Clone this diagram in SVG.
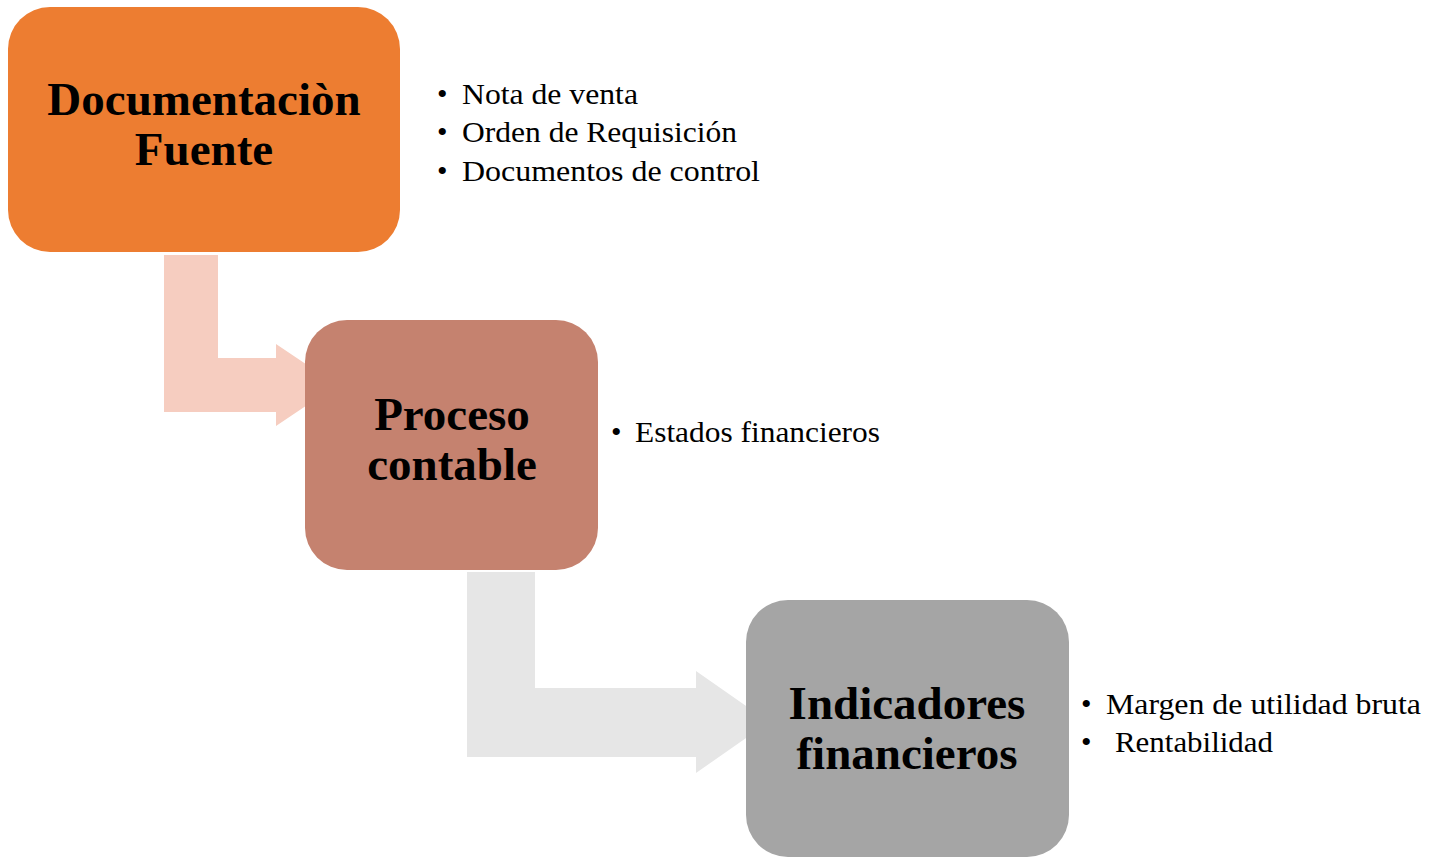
<svg xmlns="http://www.w3.org/2000/svg" width="1442" height="857" viewBox="0 0 1442 857">
<style>
.title{font-family:"Liberation Serif","Times New Roman",serif;font-weight:bold;font-size:47px;fill:#000;text-anchor:middle}
.item{font-family:"Liberation Serif","Times New Roman",serif;font-size:30px;fill:#000}
</style>
<rect width="1442" height="857" fill="#fff"/>
<g id="connectors">
<path d="M164,255 H218 V358 H276 V344 L337,385 L276,426 V412 H164 Z" fill="#F6CDC0"/>
<path d="M467,572 H535 V688 H696 V671 L769,722 L696,773 V757 H467 Z" fill="#E6E6E6"/>
</g>
<g id="node1">
<rect x="8" y="7" width="392" height="245" rx="42" fill="#ED7D31"/>
<text class="title" x="204" y="115">Documentaciòn</text>
<text class="title" x="204" y="165">Fuente</text>
</g>
<g id="node2">
<rect x="305" y="320" width="293" height="250" rx="42" fill="#C5826F"/>
<text class="title" x="452" y="430">Proceso</text>
<text class="title" x="452" y="480">contable</text>
</g>
<g id="node3">
<rect x="746" y="600" width="323" height="257" rx="42" fill="#A5A5A5"/>
<text class="title" x="907" y="719">Indicadores</text>
<text class="title" x="907" y="769">financieros</text>
</g>
<g id="list1">
<text class="item" x="437" y="104">•</text><text class="item" x="462" y="104" textLength="176" lengthAdjust="spacingAndGlyphs">Nota de venta</text>
<text class="item" x="437" y="142">•</text><text class="item" x="462" y="142" textLength="275" lengthAdjust="spacingAndGlyphs">Orden de Requisición</text>
<text class="item" x="437" y="181">•</text><text class="item" x="462" y="181" textLength="298" lengthAdjust="spacingAndGlyphs">Documentos de control</text>
</g>
<g id="list2">
<text class="item" x="611" y="442">•</text><text class="item" x="635" y="442" textLength="245" lengthAdjust="spacingAndGlyphs">Estados financieros</text>
</g>
<g id="list3">
<text class="item" x="1081" y="714">•</text><text class="item" x="1106" y="714" textLength="315" lengthAdjust="spacingAndGlyphs">Margen de utilidad bruta</text>
<text class="item" x="1081" y="752">•</text><text class="item" x="1115" y="752" textLength="158" lengthAdjust="spacingAndGlyphs">Rentabilidad</text>
</g>
</svg>
